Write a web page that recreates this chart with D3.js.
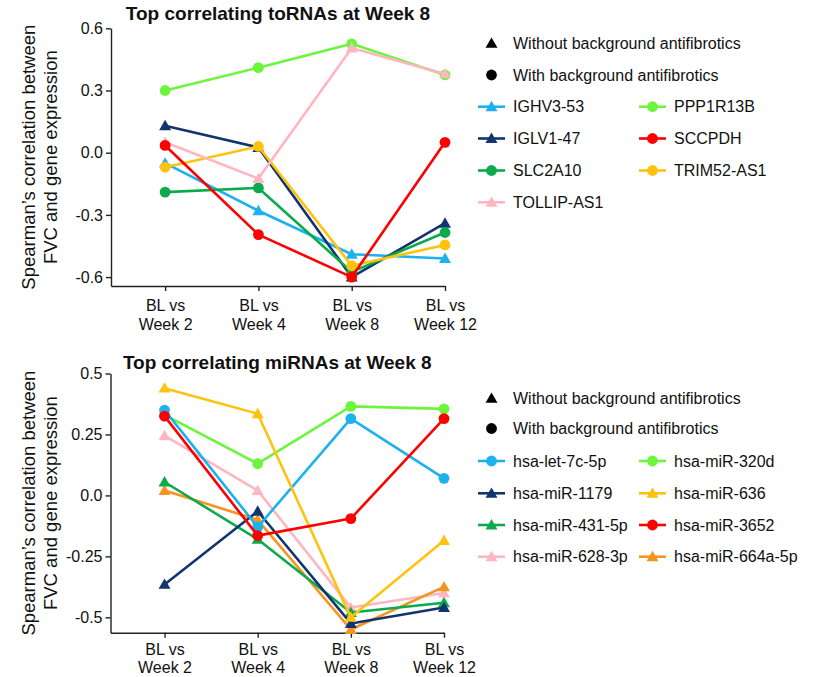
<!DOCTYPE html>
<html>
<head>
<meta charset="utf-8">
<script src="https://cdn.jsdelivr.net/npm/d3@7"></script>
<style>
  html, body { margin: 0; padding: 0; background: #fff; }
  svg { display: block; font-family: Arial, "Liberation Sans", Helvetica, sans-serif; }
</style>
</head>
<body>
<svg id="chart" width="813" height="677"></svg>
<script>
// Time-point comparisons shared by both panels
const categories = ["BL vs|Week 2", "BL vs|Week 4", "BL vs|Week 8", "BL vs|Week 12"];

// Panel A: toRNAs
const toRnaNames  = ["IGHV3-53", "IGLV1-47", "SLC2A10", "TOLLIP-AS1", "PPP1R13B", "SCCPDH", "TRIM52-AS1"];
const toRnaShapes = ["triangle", "triangle", "circle", "triangle", "circle", "circle", "circle"];
const toRnaColors = ["#1DB1EE", "#13356E", "#0BAA4B", "#FFB6C1", "#6CF53C", "#FF0000", "#FFC20E"];
const toRnaValues = [
  [-0.05, -0.28, -0.49, -0.51],   // IGHV3-53
  [0.13, 0.025, -0.60, -0.34],    // IGLV1-47
  [-0.19, -0.17, -0.575, -0.385], // SLC2A10
  [0.05, -0.125, 0.505, 0.38],    // TOLLIP-AS1
  [0.30, 0.41, 0.525, 0.375],     // PPP1R13B
  [0.035, -0.395, -0.60, 0.05],   // SCCPDH
  [-0.07, 0.03, -0.545, -0.445]   // TRIM52-AS1
];
const toRnaDrawOrder = [4, 0, 1, 2, 6, 3, 5];
const toRnaTicks  = [-0.6, -0.3, 0.0, 0.3, 0.6];
const toRnaTickLabels = ["-0.6", "-0.3", "0.0", "0.3", "0.6"];

// Panel B: miRNAs
const miRnaNames  = ["hsa-let-7c-5p", "hsa-miR-1179", "hsa-miR-431-5p", "hsa-miR-628-3p",
                     "hsa-miR-320d", "hsa-miR-636", "hsa-miR-3652", "hsa-miR-664a-5p"];
const miRnaShapes = ["circle", "triangle", "triangle", "triangle", "circle", "triangle", "circle", "triangle"];
const miRnaColors = ["#1DB1EE", "#13356E", "#0BAA4B", "#FFB6C1", "#6CF53C", "#FFC20E", "#FF0000", "#F7941D"];
const miRnaValues = [
  [0.35, -0.13, 0.315, 0.07],     // hsa-let-7c-5p
  [-0.365, -0.065, -0.525, -0.46],// hsa-miR-1179
  [0.055, -0.18, -0.48, -0.44],   // hsa-miR-431-5p
  [0.245, 0.02, -0.46, -0.40],    // hsa-miR-628-3p
  [0.33, 0.13, 0.365, 0.355],     // hsa-miR-320d
  [0.44, 0.335, -0.50, -0.185],   // hsa-miR-636
  [0.325, -0.165, -0.095, 0.315], // hsa-miR-3652
  [0.02, -0.10, -0.55, -0.375]    // hsa-miR-664a-5p
];
const miRnaDrawOrder = [4, 3, 7, 2, 1, 0, 5, 6];
const miRnaTicks  = [-0.5, -0.25, 0.0, 0.25, 0.5];
const miRnaTickLabels = ["-0.5", "-0.25", "0.0", "0.25", "0.5"];

const shapeKeys = ["Without background antifibrotics", "With background antifibrotics"];

const svg = d3.select("#chart");
const triangle = d3.symbol().type(d3.symbolTriangle).size(62);

function marker(g, shape, color, x, y) {
  if (shape === "circle") {
    g.append("circle").attr("cx", x).attr("cy", y).attr("r", 5.4).attr("fill", color);
  } else {
    g.append("path").attr("d", triangle()).attr("fill", color)
      .attr("transform", `translate(${x},${y + 1})`);
  }
}

function panel(opts) {
  const g = svg.append("g");
  const x = d3.scaleLinear().domain([-0.58, 3]).range([opts.left, opts.right]);
  const y = d3.scaleLinear().domain(opts.yDomain).range([opts.bottom, opts.top]);

  // y axis
  const yAxis = d3.axisLeft(y).tickValues(opts.ticks).tickSize(5).tickSizeOuter(0).tickPadding(3)
    .tickFormat((d, i) => opts.tickLabels[i]);
  const ya = g.append("g").attr("transform", `translate(${opts.left},0)`).call(yAxis);
  ya.selectAll("text").attr("font-size", 16).attr("fill", "#111").attr("font-family", "Arial, 'Liberation Sans', sans-serif");

  // x axis
  const xAxis = d3.axisBottom(x).tickValues([0, 1, 2, 3]).tickSize(5).tickSizeOuter(0)
    .tickFormat(() => "");
  const xa = g.append("g").attr("transform", `translate(0,${opts.bottom})`).call(xAxis);
  xa.selectAll(".tick").each(function (d) {
    const parts = categories[d].split("|");
    const t = d3.select(this).select("text").attr("y", 0).attr("dy", null)
      .attr("font-size", 16).attr("fill", "#111");
    parts.forEach((p, k) => {
      t.append("tspan").attr("x", 0).attr("y", opts.labelOffsets[k]).text(p);
    });
  });
  g.selectAll(".domain, .tick line").attr("stroke", "#222").attr("stroke-width", 1.4);

  // y label
  const cy = (opts.top + opts.bottom) / 2;
  const lab = g.append("text").attr("transform", `translate(0,${cy}) rotate(-90)`)
    .attr("text-anchor", "middle").attr("font-size", 18.5).attr("fill", "#111");
  lab.append("tspan").attr("x", 0).attr("y", 35).text("Spearman\u2019s correlation between");
  lab.append("tspan").attr("x", 0).attr("y", 56.5).text("FVC and gene expression");

  // title
  g.append("text").attr("x", (opts.left + opts.right) / 2).attr("y", opts.titleY)
    .attr("text-anchor", "middle").attr("font-size", 19).attr("font-weight", "bold")
    .attr("fill", "#111").text(opts.title);

  // series
  const line = d3.line().x((d, i) => x(i)).y(d => y(d));
  const plot = g.append("g");
  opts.order.forEach(k => {
    const s = plot.append("g");
    s.append("path").attr("d", line(opts.values[k])).attr("fill", "none")
      .attr("stroke", opts.colors[k]).attr("stroke-width", 2.6).attr("stroke-linejoin", "round");
    opts.values[k].forEach((v, i) => marker(s, opts.shapes[k], opts.colors[k], x(i), y(v)));
  });

  // legend
  const lg = g.append("g");
  const rowY = opts.legendRows;
  shapeKeys.forEach((name, i) => {
    marker(lg, i === 0 ? "triangle" : "circle", "#000", 491.5, rowY[i]);
    lg.append("text").attr("x", 513).attr("y", rowY[i]).attr("dy", "0.35em")
      .attr("font-size", 16).attr("fill", "#111").text(name);
  });
  const perCol = Math.ceil(opts.names.length / 2);
  opts.names.forEach((name, k) => {
    const col = Math.floor(k / perCol), row = k % perCol;
    const lx = col === 0 ? 478 : 639;
    const ly = rowY[2 + row];
    lg.append("line").attr("x1", lx).attr("x2", lx + 27).attr("y1", ly).attr("y2", ly)
      .attr("stroke", opts.colors[k]).attr("stroke-width", 2.6);
    marker(lg, opts.shapes[k], opts.colors[k], lx + 13.5, ly);
    lg.append("text").attr("x", lx + 35).attr("y", ly).attr("dy", "0.35em")
      .attr("font-size", 16).attr("fill", "#111").text(name);
  });
}

panel({
  title: "Top correlating toRNAs at Week 8", titleY: 20,
  left: 111, right: 445, top: 28.3, bottom: 286,
  yDomain: [-0.643, 0.6], ticks: toRnaTicks, tickLabels: toRnaTickLabels,
  names: toRnaNames, shapes: toRnaShapes, colors: toRnaColors, values: toRnaValues,
  order: toRnaDrawOrder, labelOffsets: [24.5, 44],
  legendRows: [43.3, 75, 106.7, 138.5, 170.5, 202.3]
});

panel({
  title: "Top correlating miRNAs at Week 8", titleY: 368.5,
  left: 110.5, right: 444, top: 373.5, bottom: 632.7,
  yDomain: [-0.563, 0.5], ticks: miRnaTicks, tickLabels: miRnaTickLabels,
  names: miRnaNames, shapes: miRnaShapes, colors: miRnaColors, values: miRnaValues,
  order: miRnaDrawOrder, labelOffsets: [22.5, 40.5],
  legendRows: [398.3, 428.5, 461, 493.3, 525, 556.7]
});
</script>
</body>
</html>
